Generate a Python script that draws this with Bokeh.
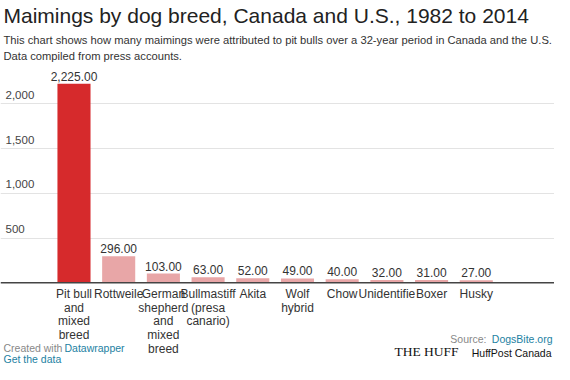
from bokeh.plotting import figure
from bokeh.models import Range1d, Label, Span, ColumnDataSource, FixedTicker
from bokeh.core.properties import value
from bokeh.embed import file_html
from bokeh.resources import INLINE

# ---- data ----
breeds = ["Pit bull\nand\nmixed\nbreed", "Rottweile", "German\nshepherd\nand\nmixed\nbreed",
          "Bullmastiff\n(presa\ncanario)", "Akita", "Wolf\nhybrid", "Chow", "Unidentifie",
          "Boxer", "Husky"]
maimings = [2225, 296, 103, 63, 52, 49, 40, 32, 31, 27]
y_ticks = [500, 1000, 1500, 2000]
bar_colors = ["#d62a2c"] + ["#e8a6a7"] * 9

title = "Maimings by dog breed, Canada and U.S., 1982 to 2014"
subtitle1 = "This chart shows how many maimings were attributed to pit bulls over a 32-year period in Canada and the U.S."
subtitle2 = "Data compiled from press accounts."

W, H = 554, 364
FONT = "Liberation Sans"
X0, X1 = -1.644, 10.75
Y0, Y1 = -913, 3154

src = ColumnDataSource(dict(
    x=list(range(len(breeds))),
    top=maimings,
    color=bar_colors,
    label=[f"{v:,.2f}" for v in maimings],
    breed=breeds,
    zero=[0] * len(breeds),
))
tick_src = ColumnDataSource(dict(y=y_ticks, label=[f"{t:,}" for t in y_ticks],
                                 x=[X0] * len(y_ticks)))

p = figure(width=W, height=H, output_backend="svg", toolbar_location=None,
           x_range=Range1d(X0, X1), y_range=Range1d(Y0, Y1),
           min_border_left=0, min_border_right=0, min_border_top=0, min_border_bottom=0,
           outline_line_color=None, background_fill_color="white", border_fill_color="white")
p.xaxis.visible = False
p.yaxis.visible = False
p.xgrid.visible = False
p.ygrid.ticker = FixedTicker(ticks=y_ticks)
p.ygrid.grid_line_color = "#e3e3e3"
p.ygrid.grid_line_width = 1

p.vbar(x="x", top="top", width=0.74, color="color", source=src, line_color=None)

p.add_layout(Span(location=0, dimension="width", line_color="#444444", line_width=1.5))

# value labels
p.text(x="x", y="top", text="label", source=src, text_align="center", text_baseline="bottom",
       y_offset=-3, text_font=value(FONT), text_font_size="12px", text_color="#333333")
# category labels
p.text(x="x", y="zero", text="breed", source=src, text_align="center", text_baseline="top",
       y_offset=4, text_font=value(FONT), text_font_size="12px", text_color="#333333",
       text_line_height=0.98)
# y tick labels
p.text(x="x", y="y", text="label", source=tick_src, text_align="left", text_baseline="bottom",
       x_offset=5, y_offset=-5, text_font=value(FONT), text_font_size="11.5px",
       text_color="#444444")


def lab(text, px, py, size, color, align="left", font=FONT):
    p.add_layout(Label(x=px, y=H - py, x_units="screen", y_units="screen", text=text,
                       text_font=font, text_font_size=size, text_color=color,
                       text_align=align, text_baseline="middle"))


lab(title, 3, 15, "21px", "#222222")
lab(subtitle1, 3, 39, "11.2px", "#333333")
lab(subtitle2, 3, 55, "11.2px", "#333333")

lab("Created with", 3, 347, "10.5px", "#888888")
lab("Datawrapper", 64, 347, "10.5px", "#1d81a2")
lab("Get the data", 3, 358, "10.5px", "#1d81a2")
lab("Source:", 486, 338, "10.5px", "#888888", align="right")
lab("DogsBite.org", 552, 338, "10.5px", "#1d81a2", align="right")
lab("THE HUFF", 394, 351, "13.5px", "#111111", font="Liberation Serif")
lab("HuffPost Canada", 551, 352, "10.5px", "#111111", align="right")

open("out.html", "w").write(file_html(p, INLINE))
